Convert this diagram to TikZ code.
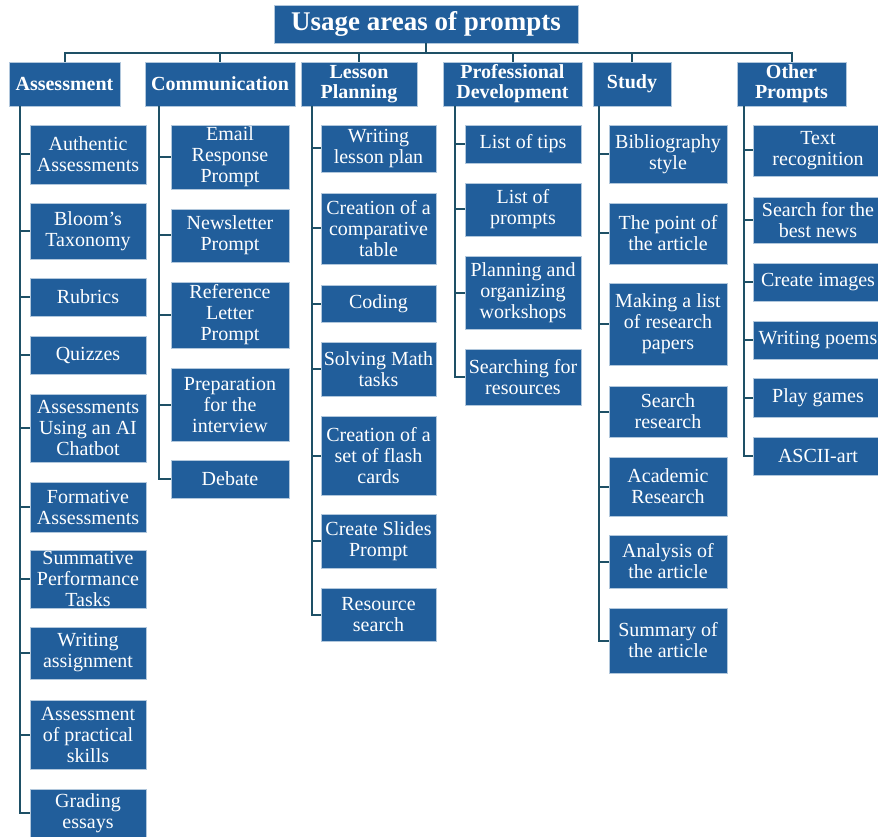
\documentclass[tikz,border=0pt]{standalone}
\usepackage{fontspec}
\setmainfont{Liberation Serif}
\usetikzlibrary{positioning}
\definecolor{boxblue}{HTML}{215E9B}
\definecolor{linkteal}{HTML}{1E5066}
\tikzset{
    box/.style={fill=boxblue, draw=boxblue!35!white, line width=0.6pt, text=white, align=center, inner sep=0pt},
    head/.style={box, font=\fontsize{20}{20}\selectfont\bfseries, minimum height=44pt},
    leaf/.style={box, font=\fontsize{20}{21}\selectfont},
    link/.style={linkteal, line width=2pt},
}
\begin{document}
\begin{tikzpicture}[x=1pt, y=-1pt]
    \useasboundingbox (0,0) rectangle (878,837);
    \clip (0,0) rectangle (878,837);
    % title and categories
    \node[box, font=\fontsize{27}{27}\selectfont\bfseries, minimum width=304pt, minimum height=38pt] (T) at (426,24) {Usage areas of prompts};
    \node[head, minimum width=111pt] (C1) at (64.5,84) {Assessment};
    \node[head, minimum width=150pt] (C2) at (220,84) {Communication};
    \node[head, minimum width=116pt] (C3) at (359,84) {Lesson\\Planning};
    \node[head, minimum width=139pt] (C4) at (512.5,84) {Professional\\Development};
    \node[head, minimum width=78pt]  (C5) at (632,84) {Study};
    \node[head, minimum width=109pt] (C6) at (791.5,84) {Other\\Prompts};
    \coordinate (BUS) at (426,53);
    \draw[link] (T.south) -- (T.south |- BUS);
    \draw[link] (C1.north) -- (C1.north |- BUS) -- (C6.north |- BUS) -- (C6.north);
    \draw[link] (C2.north) -- (C2.north |- BUS);
    \draw[link] (C3.north) -- (C3.north |- BUS);
    \draw[link] (C4.north) -- (C4.north |- BUS);
    \draw[link] (C5.north) -- (C5.north |- BUS);
    % spine tops
    \coordinate (K1) at (20,106);
    \coordinate (K2) at (159,106);
    \coordinate (K3) at (312,106);
    \coordinate (K4) at (455,106);
    \coordinate (K5) at (599,106);
    \coordinate (K6) at (744,106);
    \begin{scope}[every node/.append style={minimum width=116pt}]
        \node[leaf, minimum height=59pt] (A1) at (88,154.5) {Authentic\\Assessments};
        \node[leaf, minimum height=56pt] (A2) at (88,231) {Bloom’s\\Taxonomy};
        \node[leaf, minimum height=38pt] (A3) at (88,297) {Rubrics};
        \node[leaf, minimum height=38pt] (A4) at (88,355) {Quizzes};
        \node[leaf, minimum height=68pt] (A5) at (88,428) {Assessments\\Using an AI\\Chatbot};
        \node[leaf, minimum height=50pt] (A6) at (88,507) {Formative\\Assessments};
        \node[leaf, minimum height=58pt] (A7) at (88,579) {Summative\\Performance\\Tasks};
        \node[leaf, minimum height=52pt] (A8) at (88,653) {Writing\\assignment};
        \node[leaf, minimum height=69pt] (A9) at (88,734.5) {Assessment\\of practical\\skills};
        \node[leaf, minimum height=48pt] (A10) at (88,813) {Grading\\essays};
    \end{scope}
    \draw[link] (K1) |- (A10.west);
    \draw[link] (A1.west) -- (A1.west -| K1) (A2.west) -- (A2.west -| K1) (A3.west) -- (A3.west -| K1)
        (A4.west) -- (A4.west -| K1) (A5.west) -- (A5.west -| K1) (A6.west) -- (A6.west -| K1)
        (A7.west) -- (A7.west -| K1) (A8.west) -- (A8.west -| K1) (A9.west) -- (A9.west -| K1);
    \begin{scope}[every node/.append style={minimum width=118pt}]
        \node[leaf, minimum height=64pt] (B1) at (230,157) {Email\\Response\\Prompt};
        \node[leaf, minimum height=53pt] (B2) at (230,235.5) {Newsletter\\Prompt};
        \node[leaf, minimum height=66pt] (B3) at (230,315) {Reference\\Letter\\Prompt};
        \node[leaf, minimum height=73pt] (B4) at (230,404.5) {Preparation\\for the\\interview};
        \node[leaf, minimum height=38pt] (B5) at (230,479) {Debate};
    \end{scope}
    \draw[link] (K2) |- (B5.west);
    \draw[link] (B1.west) -- (B1.west -| K2) (B2.west) -- (B2.west -| K2) (B3.west) -- (B3.west -| K2)
        (B4.west) -- (B4.west -| K2);
    \begin{scope}[every node/.append style={minimum width=115pt}]
        \node[leaf, minimum height=47pt] (L1) at (378.5,148.5) {Writing\\lesson plan};
        \node[leaf, minimum height=71pt] (L2) at (378.5,228.5) {Creation of a\\comparative\\table};
        \node[leaf, minimum height=37pt] (L3) at (378.5,303.5) {Coding};
        \node[leaf, minimum height=54pt] (L4) at (378.5,369) {Solving Math\\tasks};
        \node[leaf, minimum height=79pt] (L5) at (378.5,455.5) {Creation of a\\set of flash\\cards};
        \node[leaf, minimum height=54pt] (L6) at (378.5,541) {Create Slides\\Prompt};
        \node[leaf, minimum height=53pt] (L7) at (378.5,614.5) {Resource\\search};
    \end{scope}
    \draw[link] (K3) |- (L7.west);
    \draw[link] (L1.west) -- (L1.west -| K3) (L2.west) -- (L2.west -| K3) (L3.west) -- (L3.west -| K3)
        (L4.west) -- (L4.west -| K3) (L5.west) -- (L5.west -| K3) (L6.west) -- (L6.west -| K3);
    \begin{scope}[every node/.append style={minimum width=116pt}]
        \node[leaf, minimum height=38pt] (P1) at (523,144) {List of tips};
        \node[leaf, minimum height=53pt] (P2) at (523,209.5) {List of\\prompts};
        \node[leaf, minimum height=73pt] (P3) at (523,292.5) {Planning and\\organizing\\workshops};
        \node[leaf, minimum height=56pt] (P4) at (523,377) {Searching for\\resources};
    \end{scope}
    \draw[link] (K4) |- (P4.west);
    \draw[link] (P1.west) -- (P1.west -| K4) (P2.west) -- (P2.west -| K4) (P3.west) -- (P3.west -| K4);
    \begin{scope}[every node/.append style={minimum width=118pt}]
        \node[leaf, minimum height=58pt] (S1) at (668,154) {Bibliography\\style};
        \node[leaf, minimum height=61pt] (S2) at (668,233.5) {The point of\\the article};
        \node[leaf, minimum height=82pt] (S3) at (668,324) {Making a list\\of research\\papers};
        \node[leaf, minimum height=51pt] (S4) at (668,411.5) {Search\\research};
        \node[leaf, minimum height=59pt] (S5) at (668,486.5) {Academic\\Research};
        \node[leaf, minimum height=53pt] (S6) at (668,561.5) {Analysis of\\the article};
        \node[leaf, minimum height=65pt] (S7) at (668,640.5) {Summary of\\the article};
    \end{scope}
    \draw[link] (K5) |- (S7.west);
    \draw[link] (S1.west) -- (S1.west -| K5) (S2.west) -- (S2.west -| K5) (S3.west) -- (S3.west -| K5)
        (S4.west) -- (S4.west -| K5) (S5.west) -- (S5.west -| K5) (S6.west) -- (S6.west -| K5);
    \begin{scope}[every node/.append style={minimum width=130pt}]
        \node[leaf, minimum height=51pt] (R1) at (818,150.5) {Text\\recognition};
        \node[leaf, minimum height=46pt] (R2) at (818,220) {Search for the\\best news};
        \node[leaf, minimum height=38pt] (R3) at (818,282) {Create images};
        \node[leaf, minimum height=38pt] (R4) at (818,340) {Writing poems};
        \node[leaf, minimum height=39pt] (R5) at (818,397.5) {Play games};
        \node[leaf, minimum height=38pt] (R6) at (818,456) {ASCII-art};
    \end{scope}
    \draw[link] (K6) |- (R6.west);
    \draw[link] (R1.west) -- (R1.west -| K6) (R2.west) -- (R2.west -| K6) (R3.west) -- (R3.west -| K6)
        (R4.west) -- (R4.west -| K6) (R5.west) -- (R5.west -| K6);
\end{tikzpicture}
\end{document}
